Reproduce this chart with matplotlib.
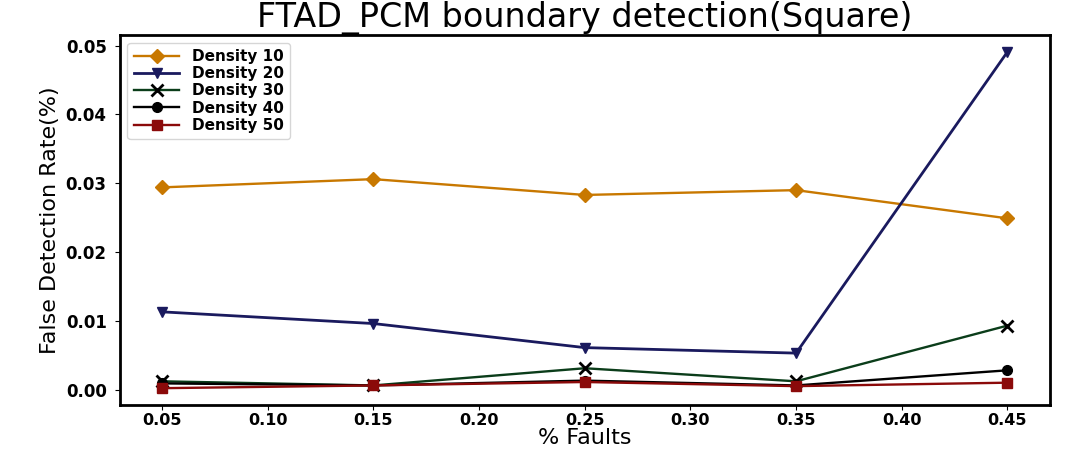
import matplotlib
matplotlib.use('Agg')
import matplotlib.pyplot as plt

faults = [0.05, 0.15, 0.25, 0.35, 0.45]
d10 = [0.0294, 0.0306, 0.0283, 0.0290, 0.0249]
d20 = [0.0113, 0.0096, 0.0061, 0.0053, 0.0491]
d30 = [0.0012, 0.0006, 0.0031, 0.0012, 0.0093]
d40 = [0.0009, 0.0006, 0.0013, 0.0006, 0.0028]
d50 = [0.0002, 0.0006, 0.0011, 0.0005, 0.0010]
xticks = [0.05, 0.10, 0.15, 0.20, 0.25, 0.30, 0.35, 0.40, 0.45]
yticks = [0.0, 0.01, 0.02, 0.03, 0.04, 0.05]

fig = plt.figure(figsize=(10.7, 4.5), dpi=100)
ax = fig.add_axes([0.112, 0.10, 0.869, 0.822])

ax.plot(faults, d10, marker='D', color='#c87800', markersize=7, linewidth=1.7, label='Density 10')
ax.plot(faults, d20, marker='v', color='#1a1a5e', markersize=7, linewidth=2, label='Density 20')
ax.plot(faults, d30, marker='x', color='#0b3d1a', markersize=8, markeredgewidth=2,
        markeredgecolor='black', linewidth=1.7, label='Density 30')
ax.plot(faults, d40, marker='o', color='black', markersize=7, linewidth=1.7, label='Density 40')
ax.plot(faults, d50, marker='s', color='#8b0a0a', markersize=7, linewidth=1.7, label='Density 50')

ax.set_xticks(xticks)
ax.set_xticklabels(['%.2f' % v for v in xticks], fontsize=11.5, fontweight='bold')
ax.set_yticks(yticks)
ax.set_yticklabels(['%.2f' % v for v in yticks], fontsize=12, fontweight='bold')
ax.tick_params(axis='y', pad=6)
ax.tick_params(axis='x', pad=2)
for s in ax.spines.values():
    s.set_linewidth(2)

ax.set_xlabel('% Faults', fontsize=16, labelpad=0)
ax.set_ylabel('False Detection Rate(%)', fontsize=16, family=['Liberation Sans Narrow', 'DejaVu Sans'])
ax.set_title('FTAD_PCM boundary detection(Square)', fontsize=24, pad=3)
ax.legend(loc='upper left', prop={'weight': 'bold', 'size': 11}, handlelength=3,
          labelspacing=0.15, borderaxespad=0.5)

fig.savefig('out.png', dpi=100)
